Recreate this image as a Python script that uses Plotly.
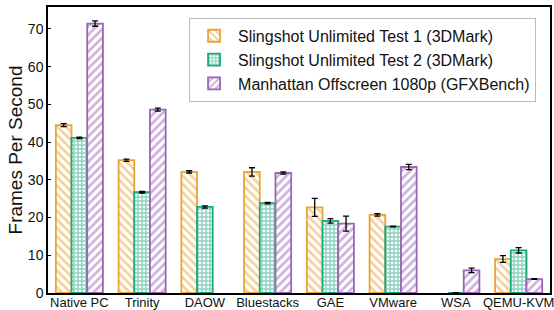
import plotly.graph_objects as go

categories = ["Native PC", "Trinity", "DAOW", "Bluestacks", "GAE", "VMware", "WSA", "QEMU-KVM"]
series_names = [
    "Slingshot Unlimited Test 1 (3DMark)",
    "Slingshot Unlimited Test 2 (3DMark)",
    "Manhattan Offscreen 1080p (GFXBench)",
]
test1 = [44.5, 35.2, 32.1, 32.1, 22.7, 20.7, None, 9.0]
test1_err = [0.4, 0.3, 0.3, 1.1, 2.4, 0.3, 0, 0.9]
test2 = [41.1, 26.7, 22.8, 23.8, 19.1, 17.6, 0, 11.3]
test2_err = [0.2, 0.2, 0.3, 0.2, 0.6, 0.1, 0.1, 0.7]
manhattan = [71.4, 48.6, None, 31.8, 18.4, 33.4, 6.0, 3.7]
manhattan_err = [0.7, 0.4, 0, 0.3, 2.0, 0.7, 0.6, 0.1]

colors = ["#E8A43A", "#1BA97F", "#9B65B5"]
values = [test1, test2, manhattan]
errors = [test1_err, test2_err, manhattan_err]
patterns = [
    dict(shape="\\", fgcolor=colors[0], bgcolor="white", size=6, solidity=0.45, fillmode="overlay"),
    dict(shape="+", fgcolor=colors[1], bgcolor="white", size=4, solidity=0.6, fillmode="overlay"),
    dict(shape="/", fgcolor=colors[2], bgcolor="white", size=6, solidity=0.45, fillmode="overlay"),
]

fig = go.Figure()
for name, vals, errs, col, pat in zip(series_names, values, errors, colors, patterns):
    fig.add_trace(go.Bar(
        x=categories, y=vals, name=name,
        marker=dict(color="white", line=dict(color=col, width=1.8), pattern=pat),
        error_y=dict(type="data", array=errs, visible=True, color="black", thickness=1.3, width=3),
    ))

fig.update_layout(
    width=554, height=310,
    margin=dict(l=48, r=4, t=7, b=17, autoexpand=False),
    paper_bgcolor="white", plot_bgcolor="white",
    barmode="group", bargap=0.25, bargroupgap=0,
    font=dict(family="Liberation Sans, Arial, sans-serif", color="#222"),
    legend=dict(
        x=0.281, y=0.962, xanchor="left", yanchor="top",
        bordercolor="#BBBBBB", borderwidth=1, bgcolor="white",
        font=dict(size=16, color="#111"), itemwidth=38,
    ),
    showlegend=True,
)
fig.update_xaxes(
    range=[-0.5, 7.5], showline=True, linecolor="black", linewidth=1.5, mirror=True,
    ticks="", tickfont=dict(size=13, color="#111"), showgrid=False,
    automargin=False, ticklabelstandoff=-3,
)
fig.update_yaxes(
    range=[0, 75.8], showline=True, linecolor="black", linewidth=1.5, mirror=True,
    ticks="inside", ticklen=3, tickcolor="black", dtick=10, showgrid=False, zeroline=False,
    tickfont=dict(size=14, color="#111"), automargin=False,
    title=dict(text="Frames Per Second", font=dict(size=19, color="#111"), standoff=0),
)

fig.write_html(
    "out.html",
    config={"displayModeBar": False},
    post_script="document.body.style.margin='0';document.body.style.overflow='hidden';",
)
